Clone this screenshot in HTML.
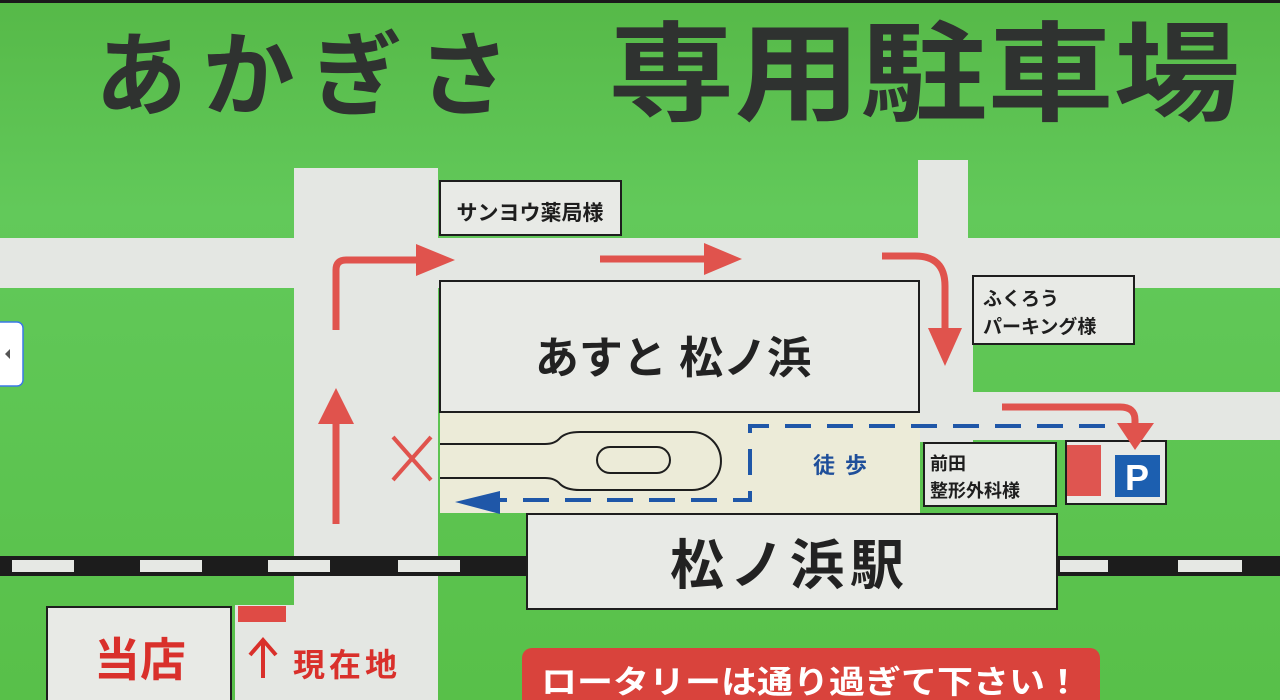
<!DOCTYPE html>
<html><head><meta charset="utf-8"><style>
html,body{margin:0;padding:0;width:1280px;height:700px;overflow:hidden;background:#5ec553}
svg{display:block}
text{font-family:"Liberation Sans","Noto Sans CJK JP",sans-serif}
</style></head><body>
<svg width="1280" height="700" viewBox="0 0 1280 700" xmlns="http://www.w3.org/2000/svg">
<defs><linearGradient id="bg" x1="0" y1="0" x2="0" y2="1"><stop offset="0" stop-color="#56b948"/><stop offset="0.3" stop-color="#62c95a"/><stop offset="1" stop-color="#58c049"/></linearGradient></defs>
<rect width="1280" height="700" fill="url(#bg)"/>
<rect width="1280" height="3" fill="#1a1a1a"/>
<!-- title -->
<text x="95" y="108" font-size="92" fill="#2f3230" font-family="'Noto Serif CJK JP','Noto Serif CJK SC',serif" font-weight="bold" textLength="415" lengthAdjust="spacing">あかぎさ</text>
<text x="608" y="112" font-size="108" fill="#2f3230" font-family="'Noto Serif CJK JP','Noto Serif CJK SC',serif" font-weight="bold" textLength="632" lengthAdjust="spacingAndGlyphs">専用駐車場</text>
<!-- roads -->
<g fill="#e4e7e3">
<rect x="294" y="168" width="144" height="532"/>
<rect x="0" y="238" width="1280" height="50"/>
<rect x="918" y="160" width="50" height="80"/>
<rect x="918" y="238" width="55" height="204"/>
<rect x="918" y="392" width="362" height="48"/>
<rect x="235" y="605" width="203" height="95"/>
</g>
<rect x="440" y="413" width="480" height="100" fill="#ecebd8"/>
<!-- rail -->
<rect x="0" y="556" width="1280" height="20" fill="#1c1c1c"/>
<g fill="#e6e8e4">
<rect x="12" y="560" width="62" height="12"/><rect x="140" y="560" width="62" height="12"/><rect x="268" y="560" width="62" height="12"/><rect x="398" y="560" width="62" height="12"/>
<rect x="1060" y="560" width="48" height="12"/><rect x="1178" y="560" width="64" height="12"/>
</g>
<!-- boxes -->
<g fill="#e8eae6" stroke="#1e1e1e" stroke-width="2">
<rect x="440" y="181" width="181" height="54"/>
<rect x="440" y="281" width="479" height="131"/>
<rect x="973" y="276" width="161" height="68"/>
<rect x="527" y="514" width="530" height="95"/>
<rect x="924" y="443" width="132" height="63"/>
<rect x="1066" y="441" width="100" height="63"/>
<rect x="47" y="607" width="184" height="95"/>
</g>
<rect x="1067" y="445" width="34" height="51" fill="#df5550"/>
<rect x="1115" y="455" width="45" height="42" fill="#1c5fb0"/>
<text x="1137" y="490" font-size="36" font-weight="bold" fill="#fff" text-anchor="middle">P</text>
<rect x="238" y="606" width="48" height="16" fill="#df4b45"/>
<!-- rotary -->
<g fill="none" stroke="#1e1e1e" stroke-width="2">
<path d="M440 444 H545 Q555 444 560 438 Q566 432 580 432 H692 A29 29 0 0 1 692 490 H580 Q566 490 560 484 Q555 478 545 478 H440"/>
<rect x="597" y="447" width="73" height="26" rx="13"/>
</g>
<!-- dashed walk -->
<g fill="none" stroke="#1f57a8" stroke-width="4" stroke-dasharray="26 16">
<path d="M1105 426 H750 V500 H480"/>
</g>
<polygon points="455,502 500,491 500,514" fill="#1f57a8"/>
<!-- red X -->
<g stroke="#e0534d" stroke-width="4"><line x1="393" y1="437" x2="431" y2="480"/><line x1="431" y1="437" x2="393" y2="480"/></g>
<!-- red arrows -->
<g fill="none" stroke="#e0534d" stroke-width="7">
<line x1="336" y1="524" x2="336" y2="420"/>
<path d="M336 330 V270 Q336 260 346 260 H420"/>
<line x1="600" y1="259" x2="705" y2="259"/>
<path d="M882 256 H915 Q945 256 945 286 V330"/>
<path d="M1002 407 H1120 Q1135 407 1135 420 V425"/>
</g>
<g fill="#e0534d">
<polygon points="318,424 354,424 336,388"/>
<polygon points="416,244 416,276 455,260"/>
<polygon points="704,243 704,275 742,259"/>
<polygon points="928,328 962,328 945,366"/>
<polygon points="1117,423 1154,423 1135,450"/>
</g>
<!-- labels -->
<text x="530" y="220" font-size="21" fill="#1e1e1e" text-anchor="middle" font-weight="bold">サンヨウ薬局様</text>
<text x="673" y="373" font-size="44" fill="#222" text-anchor="middle" font-weight="bold" font-family="'Noto Serif CJK JP','Noto Serif CJK SC',serif">あすと 松ノ浜</text>
<text x="983" y="305" font-size="19" fill="#1e1e1e" font-weight="bold">ふくろう</text>
<text x="983" y="333" font-size="19" fill="#1e1e1e" font-weight="bold">パーキング様</text>
<text x="930" y="470" font-size="18" fill="#1e1e1e" font-weight="bold">前田</text>
<text x="930" y="497" font-size="18" fill="#1e1e1e" font-weight="bold">整形外科様</text>
<text x="845" y="473" font-size="22" fill="#1f4f9a" text-anchor="middle" font-weight="bold" letter-spacing="10">徒歩</text>
<text x="790" y="584" font-size="54" fill="#222" text-anchor="middle" font-weight="bold" font-family="'Noto Serif CJK JP','Noto Serif CJK SC',serif" letter-spacing="6">松ノ浜駅</text>
<text x="140" y="676" font-size="46" fill="#d9302b" text-anchor="middle" font-weight="bold" font-family="'Noto Serif CJK JP','Noto Serif CJK SC',serif">当店</text>
<g stroke="#d9302b" stroke-width="4" fill="none"><line x1="263" y1="678" x2="263" y2="642"/><polyline points="250,655 263,640 276,655"/></g>
<text x="293" y="676" font-size="32" fill="#d9302b" font-weight="bold" font-family="'Noto Serif CJK JP','Noto Serif CJK SC',serif" letter-spacing="4">現在地</text>
<!-- banner -->
<rect x="522" y="648" width="578" height="70" rx="10" fill="#d9433c"/>
<text x="811" y="693" font-size="32" fill="#fff" text-anchor="middle" font-weight="bold" font-family="'Noto Serif CJK JP','Noto Serif CJK SC',serif" textLength="540" lengthAdjust="spacingAndGlyphs">ロータリーは通り過ぎて下さい！</text>
<!-- side control -->
<rect x="-8" y="322" width="31" height="64" rx="6" fill="#fff" stroke="#3b78e7" stroke-width="1.5"/>
<polygon points="5,354 10,349 10,359" fill="#555"/>
</svg>
</body></html>
